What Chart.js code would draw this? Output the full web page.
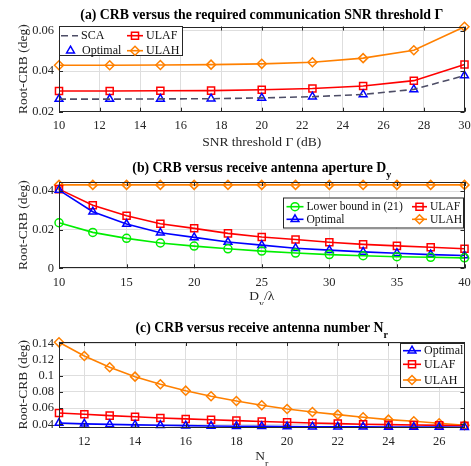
<!DOCTYPE html>
<html>
<head>
<meta charset="utf-8">
<script src="https://cdn.jsdelivr.net/npm/chart.js@4.4.1/dist/chart.umd.min.js"></script>
<style>
  html, body { margin: 0; padding: 0; background: #fff; }
  #wrap { position: relative; width: 471px; height: 466px; }
  .panel { position: absolute; left: 0; width: 471px; }
</style>
</head>
<body>
<div id="wrap">
  <div class="panel" style="top:0;height:150px"><canvas id="chartA"></canvas></div>
  <div class="panel" style="top:150px;height:155px"><canvas id="chartB"></canvas></div>
  <div class="panel" style="top:305px;height:161px"><canvas id="chartC"></canvas></div>
</div>
<script>
// (a) CRB versus SNR threshold
const snrThreshold = [10, 12.5, 15, 17.5, 20, 22.5, 25, 27.5, 30];
const snrSCA     = [0.0262, 0.0262, 0.0263, 0.0264, 0.0268, 0.0274, 0.0285, 0.0310, 0.0378];
const snrOptimal = [0.0262, 0.0262, 0.0263, 0.0264, 0.0268, 0.0274, 0.0285, 0.0310, 0.0378];
const snrULAF    = [0.0302, 0.0302, 0.0303, 0.0304, 0.0308, 0.0314, 0.0327, 0.0353, 0.0433];
const snrULAH    = [0.0429, 0.0429, 0.0430, 0.0432, 0.0436, 0.0444, 0.0464, 0.0503, 0.0619];
const snrTicks   = [10, 12, 14, 16, 18, 20, 22, 24, 26, 28, 30];
const crbTicksA  = [0.02, 0.04, 0.06];

// (b) CRB versus receive antenna aperture
const aperture     = [10, 12.5, 15, 17.5, 20, 22.5, 25, 27.5, 30, 32.5, 35, 37.5, 40];
const apLowerBound = [0.0236, 0.0186, 0.0155, 0.0131, 0.0115, 0.0101, 0.0089, 0.0079, 0.0071, 0.0065, 0.0060, 0.0057, 0.0054];
const apOptimal    = [0.0405, 0.0293, 0.0229, 0.0184, 0.0160, 0.0136, 0.0120, 0.0104, 0.0094, 0.0085, 0.0078, 0.0071, 0.0066];
const apULAF       = [0.0410, 0.0327, 0.0272, 0.0231, 0.0207, 0.0181, 0.0162, 0.0149, 0.0135, 0.0124, 0.0116, 0.0109, 0.0101];
const apULAH       = [0.0432, 0.0432, 0.0432, 0.0432, 0.0432, 0.0432, 0.0432, 0.0432, 0.0432, 0.0432, 0.0432, 0.0432, 0.0432];
const apertureTicks = [10, 15, 20, 25, 30, 35, 40];
const crbTicksB     = [0, 0.02, 0.04];

// (c) CRB versus receive antenna number
const antennaNum = [11, 12, 13, 14, 15, 16, 17, 18, 19, 20, 21, 22, 23, 24, 25, 26, 27];
const nOptimal = [0.0415, 0.0405, 0.0398, 0.0392, 0.0387, 0.0383, 0.0379, 0.0376, 0.0374, 0.0372, 0.0370, 0.0369, 0.0368, 0.0367, 0.0366, 0.0365, 0.0364];
const nULAF    = [0.0540, 0.0523, 0.0507, 0.0492, 0.0478, 0.0466, 0.0456, 0.0445, 0.0434, 0.0425, 0.0416, 0.0408, 0.0401, 0.0395, 0.0390, 0.0386, 0.0382];
const nULAH    = [0.1412, 0.1243, 0.1104, 0.0988, 0.0894, 0.0815, 0.0746, 0.0688, 0.0635, 0.0589, 0.0552, 0.0519, 0.0486, 0.0457, 0.0437, 0.0412, 0.0388];
const antennaTicks = [12, 14, 16, 18, 20, 22, 24, 26];
const crbTicksC    = [0.04, 0.06, 0.08, 0.1, 0.12, 0.14];

const SERIF = '"Liberation Serif", "DejaVu Serif", serif';
const axisColor = '#262626';
const gridColor = '#dedede';
const BLUE = '#0000ff', RED = '#ff0000', ORANGE = '#ff8000', GREEN = '#00ee00', SLATE = '#4d4d66';

Chart.defaults.font.family = SERIF;
Chart.defaults.animation = false;

const pts = (xs, ys) => xs.map((x, i) => ({ x: x, y: ys[i] }));

function series(label, xs, ys, color, style, extra) {
  return Object.assign({
    label: label,
    data: pts(xs, ys),
    borderColor: color,
    backgroundColor: 'rgba(0,0,0,0)',
    pointBackgroundColor: 'rgba(0,0,0,0)',
    pointBorderColor: color,
    borderWidth: 1.6,
    pointBorderWidth: 1.5,
    pointStyle: style,
    pointRadius: style ? 4.5 : 0,
    tension: 0,
    clip: false,
  }, extra || {});
}

// draw text made of parts, some of them subscripts, centred at cx
function drawRich(ctx, parts, cx, cy, size, bold) {
  const w = bold ? 'bold ' : '';
  const main = w + size + 'px ' + SERIF;
  const sub = w + Math.round(size * 0.72) + 'px ' + SERIF;
  let total = 0;
  parts.forEach(p => { ctx.font = p.sub ? sub : main; total += ctx.measureText(p.t).width; });
  let x = cx - total / 2;
  ctx.textBaseline = 'middle';
  ctx.textAlign = 'left';
  parts.forEach(p => {
    ctx.font = p.sub ? sub : main;
    ctx.fillText(p.t, x, p.sub ? cy + size * 0.55 : cy);
    x += ctx.measureText(p.t).width;
  });
}

function drawMarker(ctx, ds, x, y) {
  if (!ds.pointStyle) return;
  ctx.save();
  ctx.setLineDash([]);
  ctx.strokeStyle = ds.pointBorderColor;
  ctx.fillStyle = 'rgba(0,0,0,0)';
  ctx.lineWidth = ds.pointBorderWidth;
  Chart.helpers.drawPoint(ctx, { pointStyle: ds.pointStyle, radius: ds.pointRadius, borderWidth: ds.pointBorderWidth, rotation: 0 }, x, y);
  ctx.restore();
}

const matlabAxes = {
  id: 'matlabAxes',
  afterDraw(chart, args, opts) {
    const { ctx, chartArea: a, scales: { x, y } } = chart;
    ctx.save();
    // box and inward ticks
    ctx.strokeStyle = axisColor;
    ctx.lineWidth = 1;
    ctx.beginPath();
    x.ticks.forEach(t => {
      const px = Math.round(x.getPixelForValue(t.value)) + 0.5;
      ctx.moveTo(px, a.bottom); ctx.lineTo(px, a.bottom - 4);
      ctx.moveTo(px, a.top); ctx.lineTo(px, a.top + 4);
    });
    y.ticks.forEach(t => {
      const py = Math.round(y.getPixelForValue(t.value)) + 0.5;
      ctx.moveTo(a.left, py); ctx.lineTo(a.left + 4, py);
      ctx.moveTo(a.right, py); ctx.lineTo(a.right - 4, py);
    });
    ctx.stroke();
    ctx.strokeRect(Math.round(a.left) + 0.5, Math.round(a.top) + 0.5, Math.round(a.width) - 1, Math.round(a.height) - 1);

    // title and x label
    ctx.fillStyle = '#000';
    drawRich(ctx, opts.title, (a.left + a.right) / 2, opts.titleY, 13.8, true);
    ctx.fillStyle = axisColor;
    drawRich(ctx, opts.xlabel, (a.left + a.right) / 2, opts.xlabelY, 13.5, false);

    // legend
    const lg = opts.legend;
    ctx.fillStyle = '#fff';
    ctx.fillRect(lg.box[0], lg.box[1], lg.box[2], lg.box[3]);
    ctx.strokeStyle = axisColor;
    ctx.lineWidth = 1;
    ctx.strokeRect(lg.box[0] + 0.5, lg.box[1] + 0.5, lg.box[2], lg.box[3]);
    lg.items.forEach(it => {
      const ds = chart.data.datasets[it.ds];
      if (ds.showLine !== false) {
        ctx.save();
        ctx.strokeStyle = ds.borderColor;
        ctx.lineWidth = ds.borderWidth;
        ctx.setLineDash(ds.borderDash || []);
        ctx.beginPath();
        ctx.moveTo(it.x, it.y); ctx.lineTo(it.x + it.len, it.y);
        ctx.stroke();
        ctx.restore();
      }
      drawMarker(ctx, ds, it.x + it.len / 2, it.y);
      ctx.fillStyle = '#111';
      ctx.font = lg.size + 'px ' + SERIF;
      ctx.textAlign = 'left';
      ctx.textBaseline = 'middle';
      ctx.fillText(ds.label, it.x + it.len + 3, it.y + 0.5);
    });
    ctx.restore();
  }
};

function noPad(s) { s.paddingLeft = 0; s.paddingRight = 0; s.paddingTop = 0; s.paddingBottom = 0; }

function axes(xMin, xMax, xTicks, yMin, yMax, yTicks, xHeight) {
  const tickFont = { family: SERIF, size: 12.5 };
  return {
    x: {
      type: 'linear', min: xMin, max: xMax,
      afterBuildTicks: s => { s.ticks = xTicks.map(v => ({ value: v })); },
      afterFit: s => { s.height = xHeight; noPad(s); },
      grid: { color: gridColor, drawTicks: false },
      border: { display: false },
      ticks: { color: axisColor, font: tickFont, padding: 7, maxRotation: 0, autoSkip: false, callback: v => String(v) },
    },
    y: {
      type: 'linear', min: yMin, max: yMax,
      afterBuildTicks: s => { s.ticks = yTicks.map(v => ({ value: v })); },
      afterFit: s => { s.width = 59; noPad(s); },
      grid: { color: gridColor, drawTicks: false },
      border: { display: false },
      ticks: { color: axisColor, font: tickFont, padding: 5, autoSkip: false, callback: v => String(+v.toFixed(4)) },
      title: { display: true, text: 'Root-CRB (deg)', color: axisColor, font: { family: SERIF, size: 13.5 }, padding: { top: 15, bottom: 0 } },
    },
  };
}

function baseOptions(pad, scales, matlab) {
  return {
    responsive: true,
    maintainAspectRatio: false,
    layout: { padding: pad },
    scales: scales,
    plugins: { legend: { display: false }, tooltip: { enabled: false }, title: { display: false }, matlabAxes: matlab },
  };
}

// (a)
new Chart(document.getElementById('chartA'), {
  type: 'line',
  data: {
    datasets: [
      series('SCA', snrThreshold, snrSCA, SLATE, false, { borderDash: [7, 4] }),
      series('Optimal', snrThreshold, snrOptimal, BLUE, 'triangle', { showLine: false }),
      series('ULAF', snrThreshold, snrULAF, RED, 'rect', { pointRadius: 5 }),
      series('ULAH', snrThreshold, snrULAH, ORANGE, 'rectRot'),
    ],
  },
  options: baseOptions({ top: 26.5, right: 3, left: 0, bottom: 0 },
    axes(10, 30, snrTicks, 0.02, 0.062, crbTicksA, 38.3),
    {
      title: [{ t: '(a) CRB versus the required communication SNR threshold \u0393' }],
      titleY: 15.5,
      xlabel: [{ t: 'SNR threshold \u0393 (dB)' }],
      xlabelY: 142,
      legend: {
        size: 12,
        box: [59, 26, 123, 29],
        items: [
          { ds: 0, x: 61, y: 35.7, len: 17 },
          { ds: 1, x: 62, y: 50.7, len: 17 },
          { ds: 2, x: 127, y: 35.7, len: 16 },
          { ds: 3, x: 127, y: 50.7, len: 16 },
        ],
      },
    }),
  plugins: [matlabAxes],
});

// (b)
new Chart(document.getElementById('chartB'), {
  type: 'line',
  data: {
    datasets: [
      series('Lower bound in (21)', aperture, apLowerBound, GREEN, 'circle', { pointRadius: 4 }),
      series('Optimal', aperture, apOptimal, BLUE, 'triangle'),
      series('ULAF', aperture, apULAF, RED, 'rect', { pointRadius: 5 }),
      series('ULAH', aperture, apULAH, ORANGE, 'rectRot'),
    ],
  },
  options: baseOptions({ top: 32, right: 3, left: 0, bottom: 0 },
    axes(10, 40, apertureTicks, 0, 0.0447, crbTicksB, 36.7),
    {
      title: [{ t: '(b) CRB versus receive antenna aperture D' }, { t: 'y', sub: true }],
      titleY: 18.3,
      xlabel: [{ t: 'D' }, { t: 'y', sub: true }, { t: '/\u03bb' }],
      xlabelY: 146.5,
      legend: {
        size: 11.6,
        box: [283, 47.5, 180, 30],
        items: [
          { ds: 0, x: 286.5, y: 56.7, len: 17 },
          { ds: 1, x: 286.5, y: 69.3, len: 17 },
          { ds: 2, x: 412, y: 56.7, len: 15 },
          { ds: 3, x: 412, y: 69.3, len: 15 },
        ],
      },
    }),
  plugins: [matlabAxes],
});

// (c)
new Chart(document.getElementById('chartC'), {
  type: 'line',
  data: {
    datasets: [
      series('Optimal', antennaNum, nOptimal, BLUE, 'triangle'),
      series('ULAF', antennaNum, nULAF, RED, 'rect', { pointRadius: 5 }),
      series('ULAH', antennaNum, nULAH, ORANGE, 'rectRot'),
    ],
  },
  options: baseOptions({ top: 37, right: 4, left: 0, bottom: 0 },
    axes(11, 27, antennaTicks, 0.036, 0.1416, crbTicksC, 38.5),
    {
      title: [{ t: '(c) CRB versus receive antenna number N' }, { t: 'r', sub: true }],
      titleY: 23.3,
      xlabel: [{ t: 'N' }, { t: 'r', sub: true }],
      xlabelY: 151.5,
      legend: {
        size: 12,
        box: [400, 38, 64, 44],
        items: [
          { ds: 0, x: 403, y: 45.7, len: 18 },
          { ds: 1, x: 403, y: 59.3, len: 18 },
          { ds: 2, x: 403, y: 75, len: 18 },
        ],
      },
    }),
  plugins: [matlabAxes],
});
</script>
</body>
</html>
